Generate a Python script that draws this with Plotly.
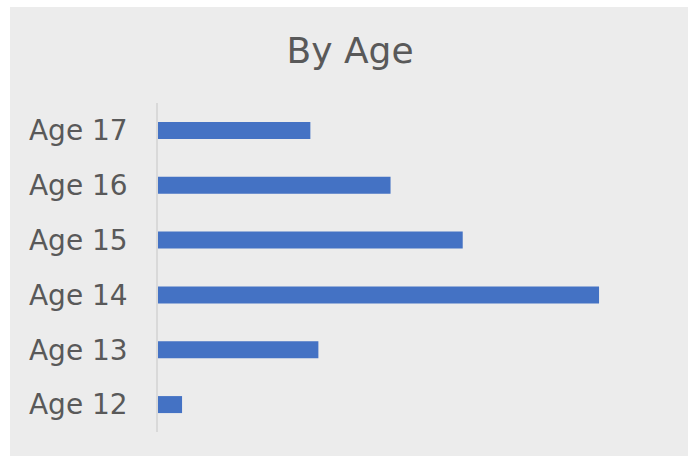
import plotly.graph_objects as go

# Respondents by age group
ages = ["Age 12", "Age 13", "Age 14", "Age 15", "Age 16", "Age 17"]
counts = [3, 20, 55, 38, 29, 19]

W, H = 688, 456
L, R, T, B = 158, 20, 103, 24
FONT = "DejaVu Sans, Open Sans, sans-serif"

fig = go.Figure(
    go.Bar(
        x=counts,
        y=ages,
        orientation="h",
        marker=dict(color="#4472C4", line=dict(width=0)),
        hoverinfo="x+y",
    )
)

fig.update_layout(
    width=W,
    height=H,
    margin=dict(l=L, r=R, t=T, b=B),
    paper_bgcolor="#ececec",
    plot_bgcolor="#ececec",
    bargap=0.69,
    showlegend=False,
    title=dict(
        text="By Age",
        x=350 / W,
        xanchor="center",
        y=1 - 50 / H,
        yanchor="middle",
        font=dict(family=FONT, size=36, color="#595959"),
    ),
    xaxis=dict(
        range=[0, 63.6],
        visible=False,
        fixedrange=True,
    ),
    yaxis=dict(
        type="category",
        showline=True,
        linecolor="#d9d9d9",
        linewidth=1.5,
        showgrid=False,
        ticks="",
        ticklabelstandoff=23,
        tickfont=dict(family=FONT, size=28, color="#595959"),
        fixedrange=True,
    ),
)

# White margin along the top and left edges of the canvas
pw = W - L - R
ph = H - T - B
fig.add_shape(type="rect", xref="paper", yref="paper", layer="below",
              x0=-L / pw, x1=(W - L) / pw, y0=(H - B - 7) / ph, y1=(H - B) / ph + 0.1,
              fillcolor="white", line=dict(width=0))
fig.add_shape(type="rect", xref="paper", yref="paper", layer="below",
              x0=-L / pw - 0.1, x1=(10 - L) / pw, y0=-B / ph - 0.1, y1=(H - B) / ph + 0.1,
              fillcolor="white", line=dict(width=0))

fig.write_html("out.html")
